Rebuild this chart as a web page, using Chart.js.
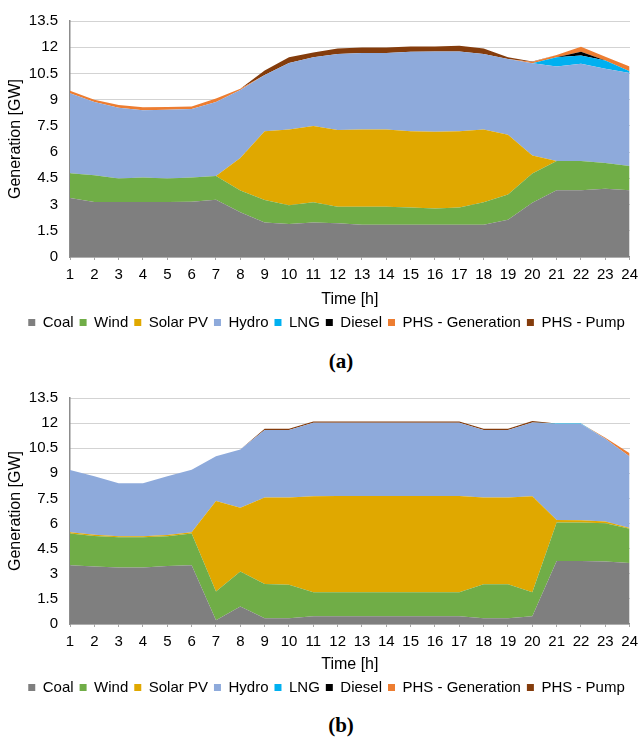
<!DOCTYPE html>
<html>
<head>
<meta charset="utf-8">
<script src="https://cdn.jsdelivr.net/npm/chart.js@4.4.1/dist/chart.umd.min.js"></script>
<style>
  body { margin: 0; background: #fff; width: 644px; height: 740px; position: relative; overflow: hidden; }
  canvas { position: absolute; left: 0; }
  .cap { position: absolute; left: 291px; width: 100px; text-align: center;
         font: bold 21px "Liberation Serif", "Times New Roman", serif; color: #000; }
</style>
</head>
<body>
<canvas id="chartA" width="644" height="340" style="top:0"></canvas>
<div class="cap" style="top:349px">(a)</div>
<canvas id="chartB" width="644" height="328" style="top:377px"></canvas>
<div class="cap" style="top:713px">(b)</div>
<script>
const hours = ['1','2','3','4','5','6','7','8','9','10','11','12','13','14','15','16','17','18','19','20','21','22','23','24'];
const yTicks = ['0','1.5','3','4.5','6','7.5','9','10.5','12','13.5'];
const seriesNames = ['Coal', 'Wind', 'Solar PV', 'Hydro', 'LNG', 'Diesel', 'PHS - Generation', 'PHS - Pump'];
const seriesColors = ['#7f7f7f', '#70ad47', '#e0a800', '#8eaadb', '#00b0f0', '#000000', '#ed7d31', '#843c0c'];

// (a)
const coalA    = [3.37,3.15,3.15,3.15,3.15,3.16,3.28,2.56,1.97,1.89,1.97,1.93,1.85,1.85,1.85,1.85,1.85,1.85,2.13,3.11,3.82,3.82,3.90,3.82];
const windA    = [1.42,1.53,1.34,1.40,1.34,1.39,1.35,1.24,1.29,1.07,1.16,0.94,1.02,1.02,0.98,0.92,0.98,1.28,1.45,1.67,1.67,1.67,1.47,1.39];
const solarA   = [0,0,0,0,0,0,0,1.87,3.93,4.34,4.36,4.40,4.43,4.43,4.36,4.40,4.36,4.17,3.42,1.03,0,0,0,0];
const hydroA   = [4.57,4.18,4.05,3.84,3.94,3.91,4.23,3.88,3.22,3.80,3.93,4.34,4.37,4.37,4.55,4.59,4.57,4.31,4.33,5.28,5.41,5.56,5.40,5.31];
const lngA     = [0,0,0,0,0,0,0,0,0,0,0,0,0,0,0,0,0,0,0,0,0.52,0.47,0.47,0.10];
const dieselA  = [0,0,0,0,0,0,0,0,0,0,0,0,0,0,0,0,0,0,0,0,0,0.22,0,0];
const phsGenA  = [0.15,0.13,0.15,0.17,0.15,0.15,0.20,0.07,0,0,0,0,0,0,0,0,0,0,0,0.06,0.13,0.28,0.22,0.28];
const phsPumpA = [0,0,0,0,0,0,0,0,0.26,0.32,0.28,0.32,0.32,0.32,0.30,0.28,0.32,0.32,0.10,0.03,0,0,0,0];

// (b)
const coalB    = [3.51,3.44,3.38,3.38,3.46,3.51,0.23,1.05,0.35,0.35,0.47,0.47,0.47,0.47,0.47,0.47,0.47,0.35,0.35,0.47,3.77,3.77,3.73,3.65];
const windB    = [1.89,1.82,1.80,1.80,1.78,1.89,1.71,2.08,2.04,2.00,1.43,1.43,1.43,1.43,1.43,1.43,1.43,2.02,2.02,1.43,2.29,2.29,2.29,2.04];
const solarB   = [0.08,0.07,0.06,0.06,0.07,0.08,5.40,3.82,5.16,5.20,5.73,5.75,5.75,5.75,5.75,5.75,5.75,5.18,5.18,5.73,0.15,0.13,0.10,0.04];
const hydroB   = [3.72,3.50,3.17,3.17,3.52,3.74,2.68,3.48,4.04,4.04,4.39,4.37,4.37,4.37,4.37,4.37,4.37,4.04,4.04,4.41,5.73,5.75,4.95,4.27];
const lngB     = [0,0,0,0,0,0,0,0,0,0,0,0,0,0,0,0,0,0,0,0,0.03,0.03,0,0];
const dieselB  = [0,0,0,0,0,0,0,0,0,0,0,0,0,0,0,0,0,0,0,0,0,0,0,0];
const phsGenB  = [0,0,0,0,0,0,0,0,0,0,0,0,0,0,0,0,0,0,0,0,0,0,0.05,0.20];
const phsPumpB = [0,0,0,0,0,0,0,0,0.08,0.08,0.08,0.08,0.08,0.08,0.08,0.08,0.08,0.08,0.08,0.08,0,0,0,0];

const FONT = '"Liberation Sans", Arial, sans-serif';

// padLeft shifts the centred legend; the y axis shrinks so the plot still starts at x=70
function makeChart(id, series, padLeft, padRight, xAxisHeight) {
  return new Chart(document.getElementById(id), {
    type: 'line',
    data: {
      labels: hours,
      datasets: series.map((values, i) => ({
        label: seriesNames[i],
        data: values,
        backgroundColor: seriesColors[i],
        borderColor: 'transparent',
        borderWidth: 0,
        pointRadius: 0,
        tension: 0,
        fill: i === 0 ? 'origin' : '-1'
      }))
    },
    options: {
      responsive: false,
      animation: false,
      events: [],
      layout: { padding: { top: 15, right: padRight, left: padLeft, bottom: 0 } },
      plugins: {
        tooltip: { enabled: false },
        legend: {
          position: 'bottom',
          labels: { boxWidth: 7, boxHeight: 7, padding: 6, color: '#000', font: { family: FONT, size: 15 } }
        }
      },
      scales: {
        x: {
          offset: false,
          grid: { drawOnChartArea: false, drawTicks: true, tickLength: 3, tickColor: '#a6a6a6' },
          border: { color: '#8c8c8c', width: 1.5 },
          ticks: { autoSkip: false, maxRotation: 0, padding: 6, color: '#000', font: { family: FONT, size: 15 } },
          title: { display: true, text: 'Time [h]', color: '#000', padding: { top: 0, bottom: 0 }, font: { family: FONT, size: 16 } },
          afterFit(scale) { scale.height = xAxisHeight; }
        },
        y: {
          stacked: true,
          min: 0,
          max: 13.5,
          grid: { color: '#a6a6a6', lineWidth: 1, drawTicks: false },
          border: { color: '#8c8c8c', width: 1.5, dash: [1, 1] },
          ticks: {
            stepSize: 1.5,
            padding: 12,
            color: '#000',
            font: { family: FONT, size: 15 },
            callback: v => yTicks[Math.round(v / 1.5)]
          },
          title: { display: true, text: 'Generation [GW]', color: '#000', padding: { top: 6 - padLeft, bottom: 0 }, font: { family: FONT, size: 16 } },
          afterFit(scale) { scale.width = 70 - padLeft; }
        }
      }
    }
  });
}

makeChart('chartA', [coalA, windA, solarA, hydroA, lngA, dieselA, phsGenA, phsPumpA], 20, 11, 52);
makeChart('chartB', [coalB, windB, solarB, hydroB, lngB, dieselB, phsGenB, phsPumpB], 22, 13, 50);
</script>
</body>
</html>
